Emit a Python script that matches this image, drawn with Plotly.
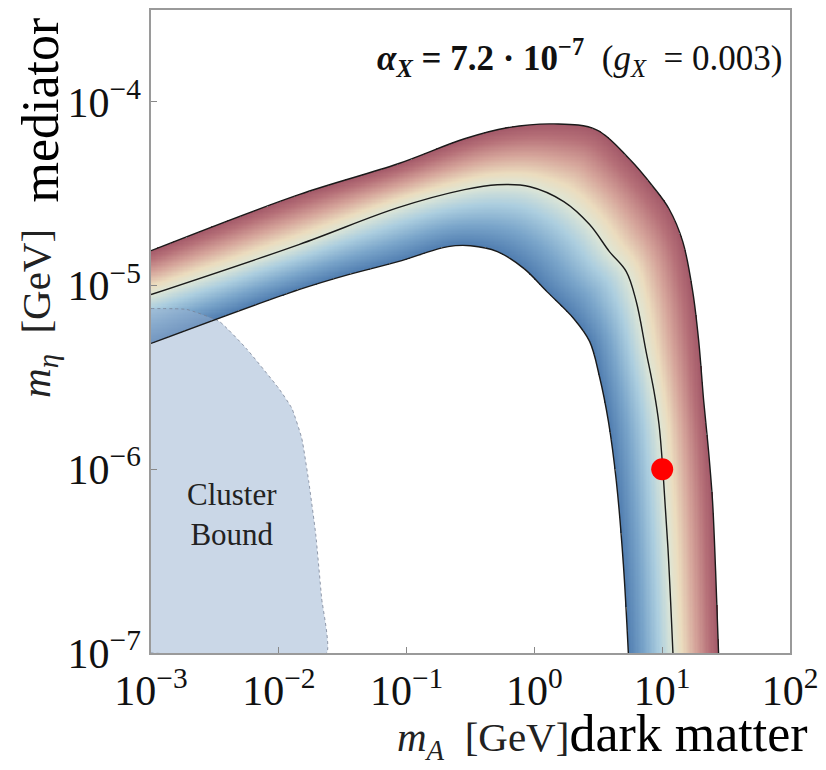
import numpy as np
import plotly.graph_objects as go

# ---------------- data (log10 of GeV values) ----------------
upper_log_mA = [-3.0, -1.843, -1.067, -0.547, -0.213, 0.152, 0.486, 0.742, 0.929, 1.053,
                1.161, 1.239, 1.286, 1.325, 1.363, 1.394, 1.418, 1.441]
upper_log_meta = [-4.810, -4.505, -4.337, -4.201, -4.141, -4.120, -4.152, -4.310, -4.462, -4.582,
                  -4.761, -5.033, -5.304, -5.630, -5.902, -6.174, -6.554, -7.0]

middle_log_mA = [-3.0, -1.843, -1.067, -0.547, -0.290, -0.034, 0.230, 0.432, 0.587, 0.719,
                 0.797, 0.874, 0.936, 0.975, 1.006, 1.045, 1.084]
middle_log_meta = [-5.049, -4.777, -4.576, -4.478, -4.451, -4.462, -4.543, -4.668, -4.815, -4.924,
                   -5.087, -5.359, -5.576, -5.755, -6.011, -6.429, -7.0]

lower_log_mA = [-3.0, -1.843, -1.455, -1.067, -0.676, -0.500, -0.290, -0.081, 0.098, 0.307,
                0.432, 0.509, 0.579, 0.641, 0.696, 0.735]
lower_log_meta = [-5.315, -5.022, -4.940, -4.870, -4.788, -4.783, -4.815, -4.908, -5.033, -5.179,
                  -5.304, -5.495, -5.739, -6.065, -6.516, -7.0]

cluster_log_mA = [-3.0, -2.72, -2.464, -2.255, -2.0, -1.898, -1.820, -1.766, -1.711, -1.665, -1.626]
cluster_log_meta = [-5.125, -5.130, -5.196, -5.342, -5.560, -5.668, -5.832, -6.065, -6.353, -6.701, -7.0]

benchmark_mA = [10.0]
benchmark_meta = [1e-6]

x_tick_vals = [1e-3, 1e-2, 1e-1, 1e0, 1e1, 1e2]
x_tick_text = ["10<sup>−3</sup>", "10<sup>−2</sup>", "10<sup>−1</sup>", "10<sup>0</sup>",
               "10<sup>1</sup>", "10<sup>2</sup>"]
y_tick_vals = [1e-7, 1e-6, 1e-5, 1e-4]
y_tick_text = ["10<sup>−7</sup>", "10<sup>−6</sup>", "10<sup>−5</sup>", "10<sup>−4</sup>"]

X_RANGE = [-3, 2]
Y_RANGE = [-7, -3.5]
SMOOTH = 1.0

W, H = 826, 770
ML, MR, MT, MB = 151, 31, 8, 117
pw, ph = W - ML - MR, H - MT - MB

# screen scale of one decade (used so the shading follows the drawn shape)
SX = pw / (X_RANGE[1] - X_RANGE[0])
SY = ph / (Y_RANGE[1] - Y_RANGE[0])


def to_xy(lx, ly):
    return np.column_stack([np.asarray(lx) * SX, np.asarray(ly) * SY])


def spline_path(pts, s):
    """Same curve Plotly draws for line.shape='spline' (sampled densely)."""
    n = len(pts)
    tang = []
    for i in range(1, n - 1):
        d1 = pts[i - 1] - pts[i]
        d2 = pts[i + 1] - pts[i]
        d1a = np.hypot(*d1) ** 0.5
        d2a = np.hypot(*d2) ** 0.5
        num = (d2a * d2a * d1 - d1a * d1a * d2) * s
        den1 = 3 * d2a * (d1a + d2a)
        den2 = 3 * d1a * (d1a + d2a)
        tang.append((pts[i] + num / den1, pts[i] - num / den2))
    tt = np.linspace(0, 1, 40)[:, None]
    out = [pts[:1]]
    p0, c, p1 = pts[0], tang[0][0], pts[1]
    out.append((1 - tt) ** 2 * p0 + 2 * (1 - tt) * tt * c + tt ** 2 * p1)
    for i in range(2, n - 1):
        p0, c1, c2, p1 = pts[i - 1], tang[i - 2][1], tang[i - 1][0], pts[i]
        out.append((1 - tt) ** 3 * p0 + 3 * (1 - tt) ** 2 * tt * c1
                   + 3 * (1 - tt) * tt ** 2 * c2 + tt ** 3 * p1)
    p0, c, p1 = pts[n - 2], tang[n - 3][1], pts[n - 1]
    out.append((1 - tt) ** 2 * p0 + 2 * (1 - tt) * tt * c + tt ** 2 * p1)
    return np.vstack(out)


def poly_dist(P, A):
    d = np.full(P.shape[0], np.inf)
    for i in range(len(A) - 1):
        a, b = A[i], A[i + 1]
        ab = b - a
        L2 = ab @ ab
        if L2 == 0:
            continue
        t = np.clip(((P - a) @ ab) / L2, 0, 1)
        proj = a + t[:, None] * ab
        d = np.minimum(d, np.hypot(P[:, 0] - proj[:, 0], P[:, 1] - proj[:, 1]))
    return d


def inside(P, poly):
    x, y = P[:, 0], P[:, 1]
    res = np.zeros(len(P), bool)
    n = len(poly)
    j = n - 1
    with np.errstate(divide="ignore", invalid="ignore"):
        for i in range(n):
            xi, yi = poly[i]
            xj, yj = poly[j]
            cond = ((yi > y) != (yj > y)) & (x < (xj - xi) * (y - yi) / (yj - yi) + xi)
            res ^= cond
            j = i
    return res


U = spline_path(to_xy(upper_log_mA, upper_log_meta), SMOOTH)
M = spline_path(to_xy(middle_log_mA, middle_log_meta), SMOOTH)
L = spline_path(to_xy(lower_log_mA, lower_log_meta), SMOOTH)

NX, NY = 520, 520
lx_edges = np.linspace(X_RANGE[0], X_RANGE[1], NX + 1)
ly_edges = np.linspace(Y_RANGE[0], Y_RANGE[1], NY + 1)
lxc = 0.5 * (lx_edges[:-1] + lx_edges[1:])
lyc = 0.5 * (ly_edges[:-1] + ly_edges[1:])
GX, GY = np.meshgrid(lxc, lyc)
P = np.column_stack([GX.ravel() * SX, GY.ravel() * SY])

band_poly = np.vstack([L, U[::-1]])
low_poly = np.vstack([L, M[::-1]])
in_band = inside(P, band_poly)
in_low = inside(P, low_poly) & in_band

dm = poly_dist(P, M)
dl = poly_dist(P, L)
du = poly_dist(P, U)
t = np.where(in_low, -dm / (dm + dl + 1e-9), dm / (dm + du + 1e-9))
t = np.where(in_band, t, np.nan).reshape(NY, NX)
z = [[None if np.isnan(v) else round(float(v), 3) for v in row] for row in t]

colorscale = [
    [0.0, "rgb(80,125,176)"],
    [0.18, "rgb(122,165,202)"],
    [0.35, "rgb(172,206,223)"],
    [0.5, "rgb(222,230,214)"],
    [0.6, "rgb(235,220,190)"],
    [0.75, "rgb(213,164,154)"],
    [0.9, "rgb(182,112,120)"],
    [1.0, "rgb(162,88,104)"],
]

fig = go.Figure()
fig.add_trace(go.Heatmap(
    x=(10 ** lx_edges).tolist(), y=(10 ** ly_edges).tolist(), z=z,
    colorscale=colorscale, zmin=-1, zmax=1, showscale=False, hoverinfo="skip",
))

# cluster bound region
cx = [10 ** v for v in cluster_log_mA] + [1e-3]
cy = [10 ** v for v in cluster_log_meta] + [1e-7]
fig.add_trace(go.Scatter(x=cx, y=cy, mode="lines", fill="toself",
                         fillcolor="rgba(150,176,208,0.5)",
                         line=dict(color="rgba(120,130,150,0.8)", width=1, dash="dot",
                                   shape="spline", smoothing=0.4),
                         hoverinfo="skip", showlegend=False))

for lx, ly in [(upper_log_mA, upper_log_meta), (middle_log_mA, middle_log_meta),
               (lower_log_mA, lower_log_meta)]:
    fig.add_trace(go.Scatter(x=[10 ** v for v in lx], y=[10 ** v for v in ly], mode="lines",
                             line=dict(color="#1a1a1a", width=1.4, shape="spline",
                                       smoothing=SMOOTH, simplify=False),
                             hoverinfo="skip", showlegend=False))

fig.add_trace(go.Scatter(x=benchmark_mA, y=benchmark_meta, mode="markers",
                         marker=dict(color="#ff0000", size=22), showlegend=False))

serif = "Liberation Serif"
axis_common = dict(type="log", showgrid=False, zeroline=False,
                   ticks="inside", ticklen=6, tickcolor="#888", linecolor="#9a9a9a", linewidth=1.5,
                   mirror=True, tickfont=dict(family=serif, size=42, color="#111"))
fig.update_xaxes(range=X_RANGE, tickmode="array", tickvals=x_tick_vals, ticktext=x_tick_text,
                 **axis_common)
fig.update_yaxes(range=Y_RANGE, tickmode="array", tickvals=y_tick_vals, ticktext=y_tick_text,
                 **axis_common)


def px(xp):
    return (xp - ML) / pw


def py(yp):
    return (H - MB - yp) / ph


annotations = [
    dict(x=px(789), y=py(56), xref="paper", yref="paper", xanchor="right", yanchor="middle",
         text="<b><i>α</i><sub><i>X</i></sub> = 7.2 · 10<sup>−7</sup></b>  (<i>g</i><sub><i>X</i></sub>  = 0.003)",
         showarrow=False, font=dict(family=serif, size=35, color="#111")),
    dict(x=px(233), y=py(514), xref="paper", yref="paper", xanchor="center", yanchor="middle",
         text="Cluster<br>Bound", showarrow=False,
         font=dict(family=serif, size=31, color="#222")),
    dict(x=px(40), y=py(108), xref="paper", yref="paper", xanchor="center", yanchor="middle",
         text="mediator", textangle=-90, showarrow=False,
         font=dict(family=serif, size=52, color="#000")),
    dict(x=px(38), y=py(312), xref="paper", yref="paper", xanchor="center", yanchor="middle",
         text="<i>m</i><sub><i>η</i></sub>  [GeV]", textangle=-90, showarrow=False,
         font=dict(family=serif, size=41, color="#222")),
    dict(x=px(815), y=py(768), xref="paper", yref="paper", xanchor="right", yanchor="bottom",
         text="<i>m</i><sub><i>A</i></sub>  [GeV]<span style=\"font-size:52px;color:#000\">dark matter</span>",
         showarrow=False, font=dict(family=serif, size=41, color="#222")),
]

fig.update_layout(width=W, height=H, margin=dict(l=ML, r=MR, t=MT, b=MB),
                  paper_bgcolor="white", plot_bgcolor="white", showlegend=False,
                  annotations=annotations)

fig.write_html("out.html")
